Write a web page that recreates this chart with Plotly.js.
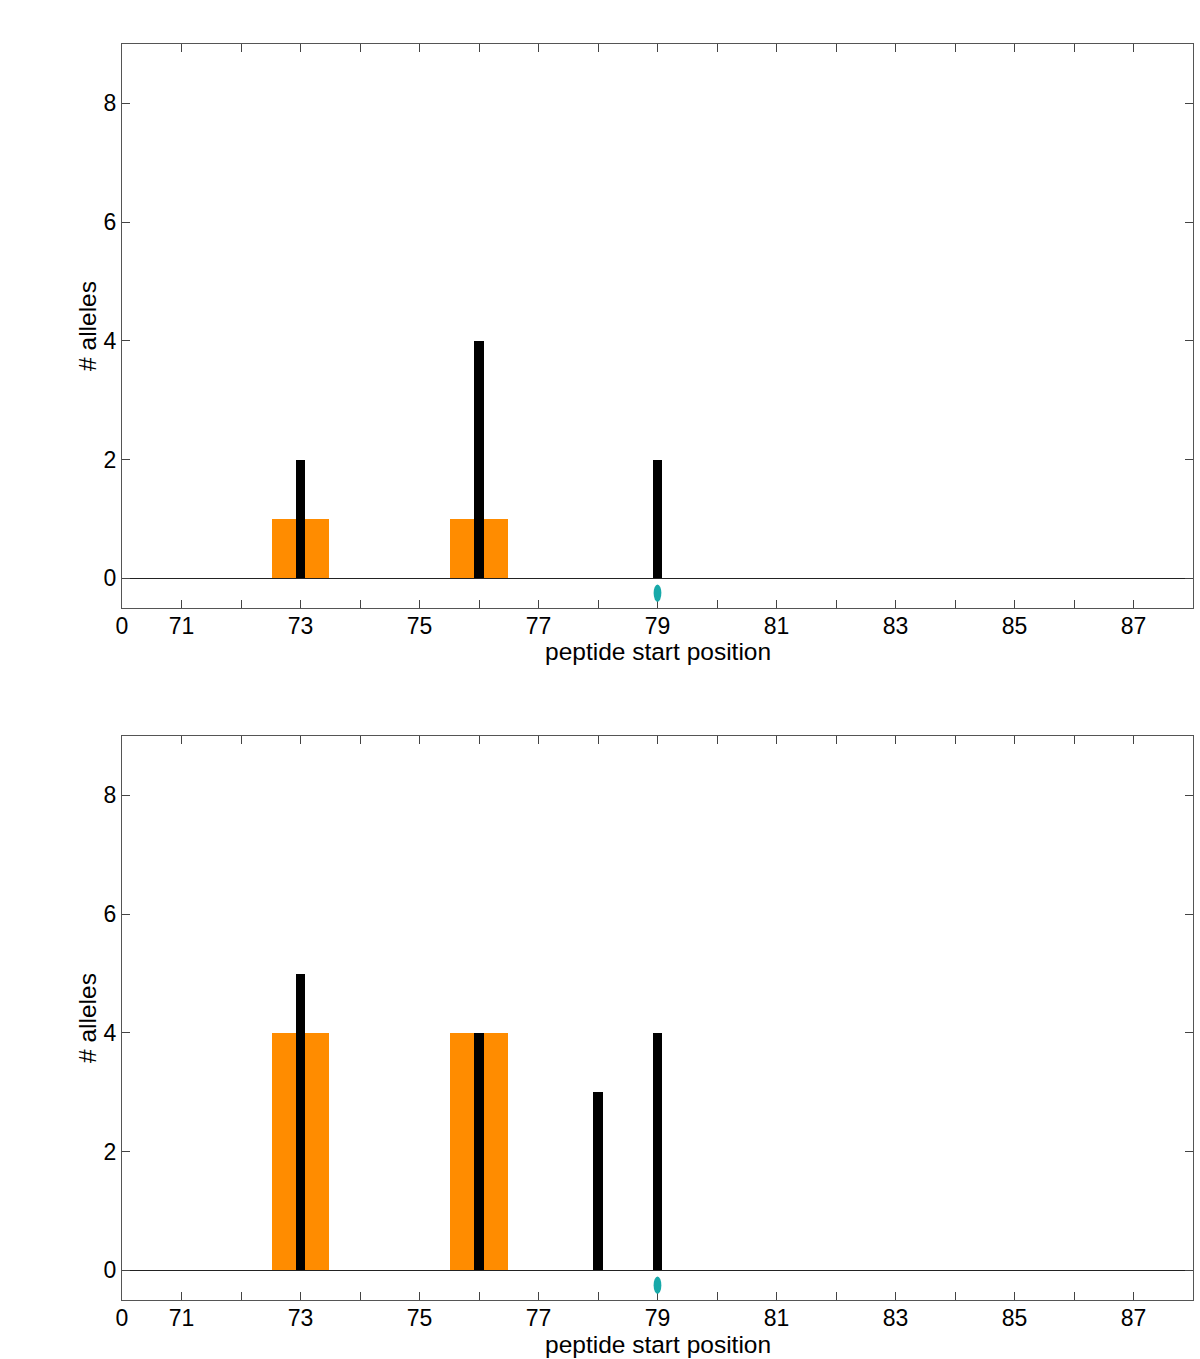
<!DOCTYPE html>
<html>
<head>
<meta charset="utf-8">
<script src="https://cdn.plot.ly/plotly-3.0.1.min.js"></script>
<style>html,body{margin:0;padding:0;background:#fff;}#chart{width:1200px;height:1359px;}</style>
</head>
<body>
<div id="chart"></div>
<script>
// Data
const orangePositions = [73, 76];
const orangeTop = [1, 1];
const orangeBottom = [4, 4];
const blackPositionsTop = [73, 76, 79];
const blackTop = [2, 4, 2];
const blackPositionsBottom = [73, 76, 78, 79];
const blackBottom = [5, 4, 3, 4];
const markerPositions = [79];
const markerLevel = -0.25;
const xTickVals = [70,71,72,73,74,75,76,77,78,79,80,81,82,83,84,85,86,87,88];
const xTickText = ["0","71","","73","","75","","77","","79","","81","","83","","85","","87",""];
const yTickVals = [0, 2, 4, 6, 8];
const xTitle = 'peptide start position';
const yTitle = '# alleles';

const ORANGE = '#ff8c00';
const CYAN = '#17a9a9';
const FONT = 'Liberation Sans, Arial, Helvetica, sans-serif';

function bars(x, y, color, width, xa, ya) {
  return {type: 'bar', x: x, y: y, width: x.map(() => width),
    marker: {color: color, line: {width: 0}}, xaxis: xa, yaxis: ya,
    hoverinfo: 'x+y', showlegend: false};
}

const data = [
  bars(orangePositions, orangeTop, ORANGE, 0.96, 'x', 'y'),
  bars(blackPositionsTop, blackTop, '#000', 0.16, 'x', 'y'),
  bars(orangePositions, orangeBottom, ORANGE, 0.96, 'x2', 'y2'),
  bars(blackPositionsBottom, blackBottom, '#000', 0.16, 'x2', 'y2')
];

const shapes = [];
const annotations = [];
[['x','y'],['x2','y2']].forEach(([xa, ya]) => {
  markerPositions.forEach(p => {
    shapes.push({type: 'circle', xref: xa, yref: ya,
      x0: p - 0.065, x1: p + 0.065, y0: markerLevel - 0.145, y1: markerLevel + 0.145,
      fillcolor: CYAN, line: {width: 0}, layer: 'above'});
  });
  annotations.push({text: xTitle, xref: xa + ' domain', yref: ya + ' domain', x: 0.5, y: 0,
    xanchor: 'center', yanchor: 'middle', yshift: -44, showarrow: false,
    font: {family: FONT, size: 24.5, color: '#000'}});
});

function xaxis(anchor) {
  return {anchor: anchor, range: [70, 88], tickmode: 'array', tickvals: xTickVals, ticktext: xTickText,
    ticks: 'inside', ticklen: 8, tickcolor: '#444', tickwidth: 1,
    showline: true, linecolor: '#555', linewidth: 1, mirror: 'ticks',
    showgrid: false, zeroline: false, ticklabelstandoff: -3,
    tickfont: {family: FONT, size: 23, color: '#000'}};
}
function yaxis(anchor, domain) {
  return {anchor: anchor, domain: domain, range: [-0.5, 9], tickmode: 'array', tickvals: yTickVals,
    ticks: 'inside', ticklen: 8, tickcolor: '#444', tickwidth: 1,
    showline: true, linecolor: '#555', linewidth: 1, mirror: 'ticks',
    showgrid: false, zeroline: true, zerolinecolor: '#222', zerolinewidth: 1,
    tickfont: {family: FONT, size: 23, color: '#000'},
    title: {text: yTitle, font: {family: FONT, size: 24.5, color: '#000'}, standoff: 0}};
}

const layout = {
  width: 1200, height: 1359,
  margin: {l: 122, r: 7, t: 44, b: 59},
  paper_bgcolor: '#fff', plot_bgcolor: '#fff',
  barmode: 'overlay', bargap: 0,
  showlegend: false,
  xaxis: xaxis('y'),
  yaxis: yaxis('x', [0.551, 1]),
  xaxis2: xaxis('y2'),
  yaxis2: yaxis('x2', [0, 0.449]),
  shapes: shapes,
  annotations: annotations
};

Plotly.newPlot('chart', data, layout, {displayModeBar: false, staticPlot: true});
</script>
</body>
</html>
